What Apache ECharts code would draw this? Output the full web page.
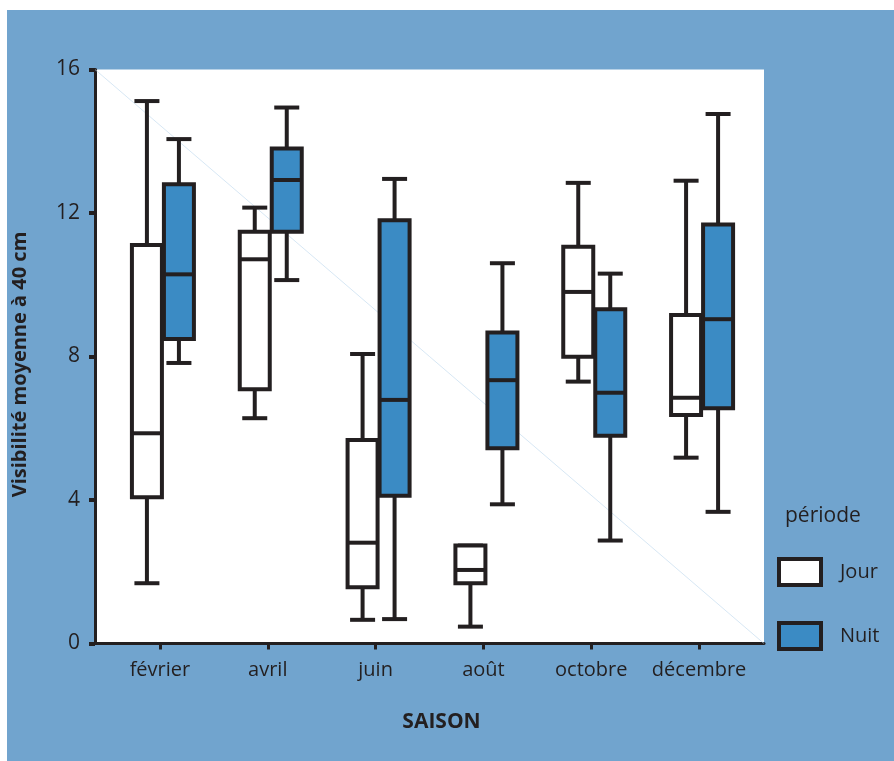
<!DOCTYPE html>
<html>
<head>
<meta charset="utf-8">
<script src="https://cdn.jsdelivr.net/npm/echarts@6/dist/echarts.min.js"></script>
<style>
  html, body { margin: 0; padding: 0; background: #ffffff; }
  #bg { position: absolute; left: 7px; top: 10px; width: 887px; height: 751px; background: #71a4ce; }
  #chart { position: absolute; left: 0; top: 0; width: 894px; height: 761px; }
</style>
</head>
<body>
<div id="bg"></div>
<div id="chart"></div>
<script>
// Categories (saison)
const categories = ['février', 'avril', 'juin', 'août', 'octobre', 'décembre'];
// Boxplot values per category: [min, Q1, médiane, Q3, max]
const jour = [
  [1.68, 4.08, 5.86, 11.11, 15.12],
  [6.28, 7.09, 10.71, 11.48, 12.15],
  [0.66, 1.57, 2.81, 5.67, 8.07],
  [0.47, 1.68, 2.05, 2.73, 2.73],
  [7.30, 7.99, 9.80, 11.06, 12.84],
  [5.18, 6.37, 6.85, 9.16, 12.90]
];
const nuit = [
  [7.82, 8.49, 10.29, 12.80, 14.06],
  [10.13, 11.48, 12.92, 13.80, 14.94],
  [0.68, 4.12, 6.79, 11.80, 12.95],
  [3.88, 5.44, 7.34, 8.67, 10.60],
  [2.87, 5.79, 6.99, 9.32, 10.31],
  [3.67, 6.56, 9.04, 11.68, 14.76]
];
const yTicks = [0, 4, 8, 12, 16];
const seriesNames = ['Jour', 'Nuit'];

const INK = '#231f20';
const FONT = '"Open Sans", "Noto Sans", sans-serif';

function boxRenderer(offset, fill) {
  return function (params, api) {
    const c = api.value(0);
    const px = api.coord([c, 0])[0] + offset;
    const yMin = api.coord([c, api.value(1)])[1];
    const yQ1 = api.coord([c, api.value(2)])[1];
    const yMed = api.coord([c, api.value(3)])[1];
    const yQ3 = api.coord([c, api.value(4)])[1];
    const yMax = api.coord([c, api.value(5)])[1];
    const bw = 30, cw = 25;
    const ls = { stroke: INK, lineWidth: 4, lineCap: 'butt' };
    return {
      type: 'group',
      children: [
        { type: 'line', shape: { x1: px, y1: yQ3, x2: px, y2: yMax }, style: ls },
        { type: 'line', shape: { x1: px, y1: yQ1, x2: px, y2: yMin }, style: ls },
        { type: 'line', shape: { x1: px - cw / 2, y1: yMax, x2: px + cw / 2, y2: yMax }, style: ls },
        { type: 'line', shape: { x1: px - cw / 2, y1: yMin, x2: px + cw / 2, y2: yMin }, style: ls },
        { type: 'rect', shape: { x: px - bw / 2, y: yQ3, width: bw, height: yQ1 - yQ3 },
          style: { fill: fill, stroke: INK, lineWidth: 4 } },
        { type: 'line', shape: { x1: px - bw / 2, y1: yMed, x2: px + bw / 2, y2: yMed }, style: ls }
      ]
    };
  };
}

function toData(arr) {
  return arr.map((v, i) => [i].concat(v));
}

const chart = echarts.init(document.getElementById('chart'), null, { renderer: 'canvas' });
chart.setOption({
  backgroundColor: 'transparent',
  animation: false,
  textStyle: { fontFamily: FONT, color: INK },
  title: {
    text: 'période', left: 780, top: 501,
    textStyle: { fontFamily: FONT, fontSize: 21, fontWeight: 'normal', color: INK }
  },
  legend: {
    orient: 'vertical', left: 777, top: 557, padding: 0,
    itemWidth: 42, itemHeight: 26, itemGap: 34, icon: 'rect',
    textStyle: { fontFamily: FONT, fontSize: 20, color: INK, padding: [0, 0, 0, 14] },
    data: [
      { name: 'Jour', itemStyle: { color: '#ffffff', borderColor: INK, borderWidth: 4 } },
      { name: 'Nuit', itemStyle: { color: '#3b8bc4', borderColor: INK, borderWidth: 4 } }
    ]
  },
  grid: [
    { left: 95, right: 130, top: 69.5, bottom: 117.5, show: true, backgroundColor: '#ffffff', borderWidth: 0 },
    { left: 106, right: 141, top: 69.5, bottom: 117.5 }
  ],
  xAxis: [
    { type: 'value', gridIndex: 0, min: 0, max: 1,
      axisLine: { show: true, lineStyle: { color: INK, width: 3 } },
      axisTick: { show: false }, axisLabel: { show: false }, splitLine: { show: false } },
    { type: 'category', gridIndex: 1, data: categories, boundaryGap: true,
      axisLine: { show: false },
      axisTick: { show: true, alignWithLabel: true, interval: 0, length: 6, lineStyle: { color: INK, width: 3 } },
      axisLabel: { fontFamily: FONT, fontSize: 20, color: INK, margin: 17, interval: 0 },
      name: 'SAISON', nameLocation: 'middle', nameGap: 68,
      nameTextStyle: { fontFamily: FONT, fontSize: 21, fontWeight: 'bold', color: INK, padding: [0, 0, 0, 24] } }
  ],
  yAxis: [
    { type: 'value', gridIndex: 0, min: 0, max: 16, interval: 4,
      axisLine: { show: true, lineStyle: { color: INK, width: 3 } },
      axisTick: { show: true, length: 6, lineStyle: { color: INK, width: 4 } },
      axisLabel: { fontFamily: FONT, fontSize: 21, color: INK, margin: 15,
        formatter: v => (yTicks.indexOf(v) >= 0 ? String(v) : '') },
      splitLine: { show: false },
      name: 'Visibilité moyenne à 40 cm', nameLocation: 'middle', nameGap: 65, nameRotate: 90,
      nameTextStyle: { fontFamily: FONT, fontSize: 20, fontWeight: 'bold', color: INK, padding: [0, 16, 0, 0] } },
    { type: 'value', gridIndex: 1, min: 0, max: 16, interval: 4, show: false }
  ],
  series: [
    { type: 'line', xAxisIndex: 0, yAxisIndex: 0, data: [[0, 16], [1, 0]], symbol: 'none', silent: true,
      lineStyle: { color: '#c6dcef', width: 0.7 }, z: 1 },
    { name: 'Jour', type: 'custom', xAxisIndex: 1, yAxisIndex: 1, data: toData(jour),
      encode: { x: 0, y: [1, 2, 3, 4, 5] }, renderItem: boxRenderer(-13, '#ffffff'),
      itemStyle: { color: '#ffffff', borderColor: INK, borderWidth: 4 }, z: 3 },
    { name: 'Nuit', type: 'custom', xAxisIndex: 1, yAxisIndex: 1, data: toData(nuit),
      encode: { x: 0, y: [1, 2, 3, 4, 5] }, renderItem: boxRenderer(19, '#3b8bc4'),
      itemStyle: { color: '#3b8bc4', borderColor: INK, borderWidth: 4 }, z: 4 }
  ]
});
</script>
</body>
</html>
